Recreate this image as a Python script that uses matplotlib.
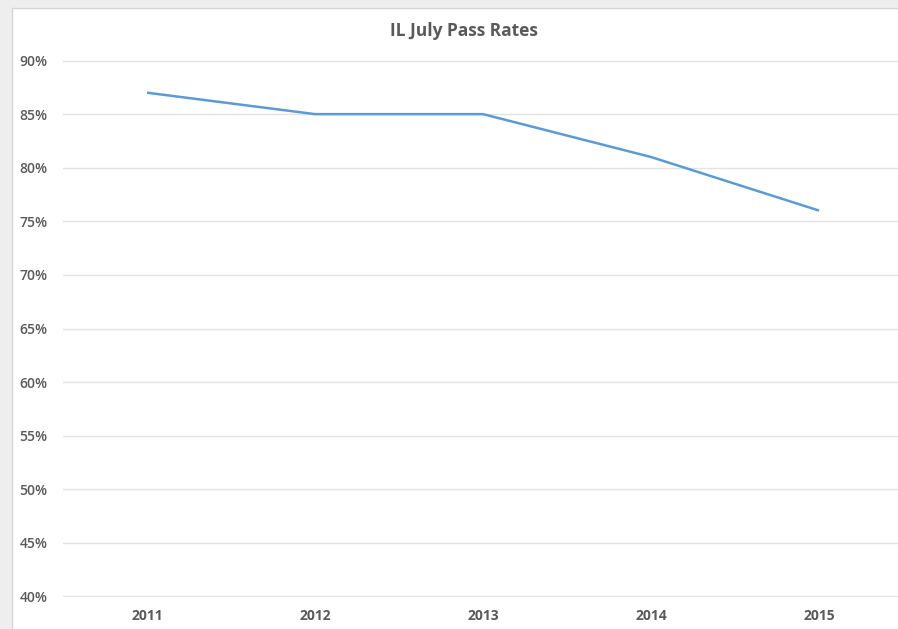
import matplotlib.pyplot as plt
from matplotlib.patches import Rectangle
from matplotlib.ticker import FuncFormatter

years = ["2011", "2012", "2013", "2014", "2015"]
pass_rates = [87, 85, 85, 81, 76]
y_ticks = [40, 45, 50, 55, 60, 65, 70, 75, 80, 85, 90]

plt.rcParams['font.family'] = ['Open Sans', 'DejaVu Sans']

W, H = 898, 629
fig = plt.figure(figsize=(W / 100, H / 100), dpi=100)
fig.patch.set_facecolor('#eeeeee')

# white chart area, cropped on right and bottom
bg = Rectangle((12 / W, -0.01), 1.0, 1 - 8 / H + 0.01,
               transform=fig.transFigure, facecolor='white',
               edgecolor='#d6d6d6', linewidth=1.0, zorder=-5)
fig.add_artist(bg)

ax = fig.add_axes([63 / W, 1 - 597 / H, 835 / W, (597 - 60) / H])
ax.set_facecolor('none')

x = list(range(len(years)))
ax.plot(x, pass_rates, color='#5b9bd5', linewidth=1.8, solid_capstyle='butt', zorder=3)

ax.set_xlim(-0.5, 4.47)
ax.set_ylim(39.95, 90.05)
ax.set_yticks(y_ticks)
ax.yaxis.set_major_formatter(FuncFormatter(lambda v, p: "%d%%" % v))
ax.set_xticks(x)
ax.set_xticklabels(years)

ax.grid(axis='y', color='#e3e3e3', linewidth=1.0)
ax.set_axisbelow(True)
for s in ax.spines.values():
    s.set_visible(False)
ax.tick_params(axis='both', length=0, colors='#595959', labelsize=10)
ax.tick_params(axis='y', pad=11)
ax.tick_params(axis='x', pad=9)
for lab in ax.get_xticklabels():
    lab.set_fontweight('bold')
for lab in ax.get_yticklabels():
    lab.set_fontweight('semibold')

fig.text(464 / W, 1 - 31 / H, "IL July Pass Rates", ha='center', va='center',
         fontsize=12.5, fontweight='bold', color='#595959')

fig.savefig("out.png", dpi=100, facecolor=fig.get_facecolor())
